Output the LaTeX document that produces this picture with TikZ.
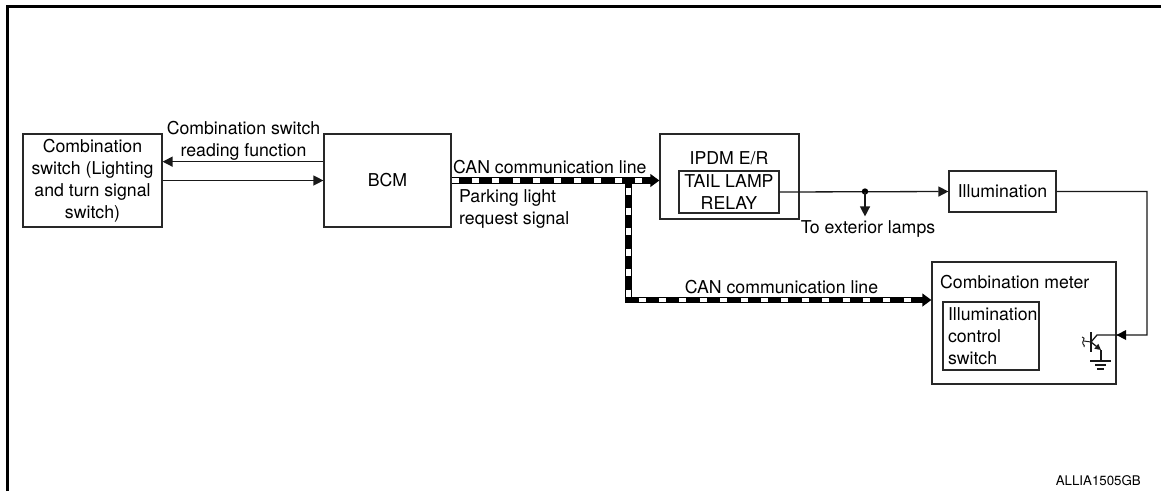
\documentclass[tikz,border=0pt]{standalone}
\usepackage{fontspec}
\setmainfont{TeX Gyre Heros}
\usetikzlibrary{arrows.meta,positioning,calc}
\definecolor{linegray}{RGB}{40, 40, 40}
\tikzset{
  box/.style={draw=linegray, line width=1.2pt, inner sep=0pt, align=center, font=\fontsize{17.7}{22}\selectfont},
  lbl/.style={inner sep=0pt, align=center, font=\fontsize{17.7}{22}\selectfont},
  sig/.style={draw=black!90, line width=1.3pt, -{Triangle[length=10pt,width=10pt]}},
  wire/.style={draw=black!90, line width=1.3pt},
  canline/.style={draw=black, line width=6.6pt, -{Triangle[length=9pt,width=12.5pt]},
    postaction={draw=white, line width=4.4pt, -, shorten >=17pt, dash pattern=on 7pt off 13.4pt, dash phase=#1}},
  canline/.default=0pt
}
\begin{document}
\begin{tikzpicture}[x=1pt,y=-1pt]
    \useasboundingbox (0,0) rectangle (1161,491);
    % frame
    \draw[line width=3pt, black] (7.5,491) -- (7.5,6.5) -- (1161,6.5);

    % boxes
    \node[box, minimum width=139pt, minimum height=93pt] (comb) at (92.5,180.5) {Combination\\switch (Lighting\\and turn signal\\switch)};
    \node[box, minimum width=127pt, minimum height=93pt] (bcm) at (387.5,180.5) {BCM};
    \node[box, minimum width=139pt, minimum height=85pt] (ipdm) at (729.5,176.5) {};
    \node[box, minimum width=100pt, minimum height=42pt] (relay) at (729,192) {TAIL LAMP\\RELAY};
    \node[box, minimum width=107pt, minimum height=41pt] (illum) at (1002.5,191.5) {Illumination};
    \node[box, minimum width=184pt, minimum height=122pt] (meter) at (1024,323) {};
    \node[box, minimum width=96pt, minimum height=68pt, align=left, text width=86pt] (ctrl) at (991,336) {Illumination\\control\\switch};

    % labels
    \node[lbl] (lread) at (243.5,140.5) {Combination switch\\reading function};
    \node[lbl, anchor=west] (lcan) at (453,167) {CAN communication line};
    \node[lbl, align=left, anchor=west] (lreq) at (459,209) {Parking light\\request signal};
    \node[lbl] (lipdm) at (729,158) {IPDM E/R};
    \node[lbl] (lext) at (868,229) {To exterior lamps};
    \node[lbl] (lcan2) at (781.5,287) {CAN communication line};
    \node[lbl, anchor=west] (lmeter) at (940,282) {Combination meter};
    \node[inner sep=0pt, font=\fontsize{13.3}{15}\selectfont, anchor=east] (lcode) at (1141,481) {ALLIA1505GB};

    % connectors
    \draw[sig] ($(bcm.north west)!0.3!(bcm.south west)$) -- ($(comb.north east)!0.3!(comb.south east)$);
    \draw[sig] (comb) -- (bcm);
    \coordinate (jcan) at ($(bcm.east)+(177,0)$);
    \draw[canline=13.4pt] (jcan) |- (meter.west |- 0,300);
    \draw[canline] (bcm.east) -- (bcm.east -| ipdm.west);
    \draw[sig] (relay.east) -- (illum.west);
    \coordinate (jext) at (865,191.5);
    \fill[black] (jext) circle (3.2pt);
    \draw[sig, shorten >=4pt] (jext) -- (jext |- lext.north);

    % transistor
    \coordinate (tcol) at (1097,335);
    \coordinate (tbase) at (1091,342);
    \coordinate (temit) at (1101,350);
    \coordinate (tgnd) at (1101,361);
    \draw[wire] (illum.east) -| (1147,335) -- (tcol) -- (tbase);
    \draw[draw=none, fill=black] (1116.5,335) -- (1126,330) -- (1126,340) -- cycle;
    \draw[wire] (1091,332) -- (1091,352);
    \draw[wire, -{Triangle[length=6pt,width=6pt]}] (tbase) -- (temit);
    \draw[wire] (temit) -- (tgnd);
    \draw[wire] (1090,361) -- (1111,361);
    \draw[wire] (1095,365) -- (1106,365);
    \draw[wire] (1097,369) -- (1104,369);
    \draw[wire, line width=1pt] (1084,341) -- (tbase);
    \draw[wire, line width=1pt] (1082,337) .. controls (1087,338) and (1081,342) .. (1083,344) .. controls (1084,345) and (1085,346) .. (1084,347);
\end{tikzpicture}
\end{document}
